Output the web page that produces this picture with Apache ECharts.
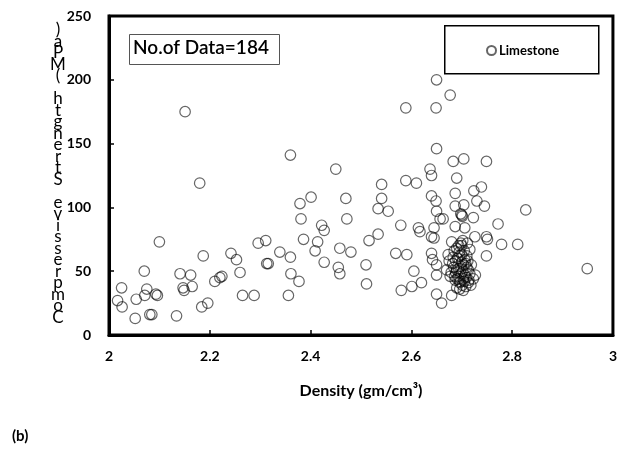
<!DOCTYPE html>
<html>
<head>
<meta charset="utf-8">
<script src="https://cdn.jsdelivr.net/npm/echarts@6/dist/echarts.min.js"></script>
<style>
html,body{margin:0;padding:0;background:#fff;}
#main{width:620px;height:454px;}
</style>
</head>
<body>
<div id="main"></div>
<script>
// 密度 (x) 和 抗压强度 (y)
var densityArr=[2.18,2.10,2.07,2.025,2.017,2.026,2.054,2.075,2.071,2.093,2.096,2.052,2.081,2.085,2.134,2.141,2.162,2.147,2.149,2.165,
	2.187,2.184,2.196,2.242,2.253,2.260,2.210,2.220,2.224,2.265,2.288,2.296,2.311,2.313,2.316,2.339,2.151,
	2.360,2.450,2.541,2.589,2.610,2.401,2.379,2.470,2.541,2.534,2.554,2.381,2.472,2.422,2.427,2.579,2.614,2.617,
	2.386,2.414,2.409,2.534,2.516,2.458,2.480,2.360,2.427,2.455,2.458,2.510,2.511,2.569,2.591,2.605,2.361,2.377,
	2.356,2.580,2.601,2.620,
	2.650,2.677,2.589,2.649,2.650,2.637,2.640,2.683,2.704,2.749,2.690,2.739,2.640,2.649,2.650,2.663,2.657,2.645,
	2.640,2.645,2.640,2.642,2.650,2.650,2.650,2.660,2.724,2.687,2.730,2.745,2.687,2.704,2.827,2.698,2.700,2.701,
	2.723,2.772,2.687,2.706,2.726,2.749,2.751,2.680,2.698,2.716,2.779,2.811,2.749,2.673,2.683,2.696,2.706,2.713,
	2.670,2.690,2.682,2.698,2.723,2.713,2.696,2.687,2.677,2.693,2.703,2.949,2.680,2.700,
	2.685,2.690,2.695,2.700,2.705,2.710,2.688,2.692,2.700,2.704,2.708,2.712,2.684,2.688,2.694,2.699,2.702,2.706,
	2.710,2.716,2.686,2.691,2.697,2.701,2.705,2.709,2.714,2.719,2.675,2.679,2.690,2.696,2.703,2.708,2.718,2.727,
	2.694,2.702,2.711];
var strengthArr=[119,73,50,37,27,22,28,36,31,32,31,13,16,16,15,48,47,37,35,38,
	62,22,25,64,59,49,42,45,46,31,31,72,74,56,56,65,175,
	141,130,118,121,119,108,103,107,107,99,97,91,91,86,82,86,84,81,
	75,73,66,79,74,68,65,61,57,53,48,55,40,64,63,50,48,42,
	31,35,38,41,
	200,188,178,178,146,130,125,136,138,136,123,116,109,105,97,91,91,84,
	77,76,64,59,55,47,32,25,113,111,105,101,101,102,98,95,94,93,
	92,87,85,84,77,77,75,73,72,67,71,71,62,63,61,62,59,51,
	51,51,56,54,44,41,41,43,46,46,44,52,31,70,
	66,68,65,63,66,62,58,60,57,55,56,58,53,49,52,48,50,47,
	53,48,46,44,42,39,42,45,43,55,58,49,37,36,35,38,39,47,
	70,74,72];

var xTicks=[2,2.2,2.4,2.6,2.8,3];
var yTicks=[0,50,100,150,200,250];
var seriesName='Limestone';
var yTitle='Compressive Strength (MPa)';

var pointData=[];
for(var i=0;i<densityArr.length;i++){
	pointData.push([densityArr[i],strengthArr[i]]);
}

var myChart=echarts.init(document.getElementById('main'));

var labelFont='Lato';

var option={
	animation:false,
	grid:{
		left:109,right:7,top:16,bottom:119,
		show:true,borderColor:'#000',borderWidth:3
	},
	legend:{
		left:481,top:39,
		itemWidth:9,itemHeight:9,itemGap:4,
		textStyle:{fontFamily:labelFont,fontWeight:'bold',fontSize:13,color:'#000',padding:[0,0,0,-2]},
		data:[seriesName]
	},
	xAxis:{
		type:'value',min:2,max:3,interval:0.2,
		splitLine:{show:false},
		axisLine:{lineStyle:{color:'#000',width:3}},
		axisTick:{inside:true,length:5,lineStyle:{color:'#000',width:1.5}},
		axisLabel:{
			margin:14,fontFamily:labelFont,fontWeight:'bold',fontSize:14,color:'#000',
			formatter:function(v){return String(Math.round(v*10)/10);}
		},
		name:'Density (gm/cm³)',nameLocation:'middle',nameGap:48,
		nameTextStyle:{fontFamily:labelFont,fontWeight:'bold',fontSize:16,color:'#000'}
	},
	yAxis:{
		type:'value',min:0,max:250,interval:50,
		splitLine:{show:false},
		axisLine:{lineStyle:{color:'#000',width:3}},
		axisTick:{inside:true,length:5,lineStyle:{color:'#000',width:1.5}},
		axisLabel:{margin:18,fontFamily:labelFont,fontWeight:'bold',fontSize:14,color:'#000'}
	},
	graphic:[
		{
			type:'rect',left:129,top:34,
			shape:{width:150,height:30},
			style:{fill:'#fff',stroke:'#555',lineWidth:1}
		},
		{
			type:'text',left:133,top:38,
			style:{text:'No.of Data=184',font:'600 19px Lato',fill:'#000'}
		},
		{
			type:'rect',left:444,top:25,z:-1,
			shape:{width:154,height:48},
			style:{fill:'#fff',stroke:'#000',lineWidth:1.5}
		},
		{
			// 纵轴标题：字符竖排，自下而上
			type:'text',x:58,y:24,
			style:{
				text:yTitle.split('').reverse().join('\n'),
				font:'17px Lato',lineHeight:11.5,align:'center',fill:'#000'
			}
		},
		{
			type:'text',left:12,top:429,
			style:{text:'(b)',font:'bold 15px Lato',fill:'#000'}
		}
	],
	series:[{
		name:seriesName,
		type:'scatter',
		symbol:'circle',
		symbolSize:10.5,
		itemStyle:{color:'rgba(255,255,255,0)',borderColor:'rgba(0,0,0,0.75)',borderWidth:1.2},
		data:pointData
	}]
};

myChart.setOption(option);
</script>
</body>
</html>
